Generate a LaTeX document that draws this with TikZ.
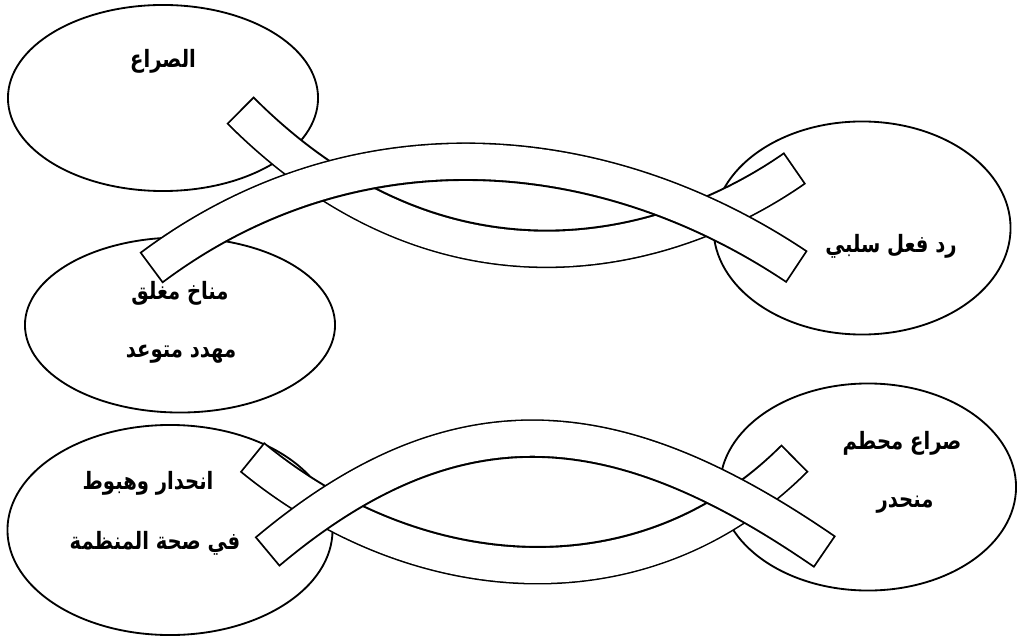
\documentclass[tikz,border=0pt]{standalone}
\usepackage{fontspec}
\usetikzlibrary{shapes.geometric}
\TeXXeTstate=1
\newfontfamily\arabicfont[Script=Arabic, FakeStretch=0.82]{DejaVu Sans}

\tikzset{
  bubble/.style={ellipse, draw, line width=1.3pt, inner sep=0pt},
  ribbon/.style={line width=27.4pt, postaction={draw=white, line width=24.8pt, shorten <=1.3pt, shorten >=1.3pt}},
  lbl/.style={font=\arabicfont\bfseries\fontsize{17}{20}\selectfont, inner sep=1pt}
}

\begin{document}
\begin{tikzpicture}[x=0.025cm,y=-0.025cm,line join=round]
        \useasboundingbox (0,0) rectangle (1017,636);
        % ellipses
        \node[bubble, minimum width=7.75cm, minimum height=4.65cm] (conflict) at (163,98) {};
        \node[bubble, minimum width=7.75cm, minimum height=4.375cm] (climate) at (180,325) {};
        \node[bubble, minimum width=7.425cm, minimum height=5.325cm] (reaction) at (862,228) {};
        \node[bubble, minimum width=8.125cm, minimum height=5.25cm] (decline) at (170,530) {};
        \node[bubble, minimum width=7.4cm, minimum height=5.175cm] (broken) at (868,487) {};
        % ribbon ends
        \coordinate (a1) at (240,110);
        \coordinate (a2) at (795,168);
        \coordinate (b1) at (151,268);
        \coordinate (b2) at (797,267);
        \coordinate (d1) at (252,457);
        \coordinate (d2) at (795,458);
        \coordinate (c1) at (267,552);
        \coordinate (c2) at (825,552);
        % upper pair
        \draw[ribbon] (a1) .. controls (445,315) and (669,256) .. (a2);
        \draw[ribbon] (b1) .. controls (350,119) and (598,134) .. (b2);
        % lower pair
        \draw[ribbon] (d1) .. controls (418,593) and (644,609) .. (d2);
        \draw[ribbon] (c1) .. controls (461,389) and (623,413) .. (c2);
        % labels
        \node[lbl] (t1) at (163,61) {\beginR الصراع\endR};
        \node[lbl] (t2) at (180,293) {\beginR مناخ مغلق\endR};
        \node[lbl] (t3) at (181,354) {\beginR مهدد متوعد\endR};
        \node[lbl] (t4) at (891,246) {\beginR رد فعل سلبي\endR};
        \node[lbl] (t5) at (148,483) {\beginR انحدار وهبوط\endR};
        \node[lbl] (t6) at (155,543) {\beginR في صحة المنظمة\endR};
        \node[lbl] (t7) at (902,443) {\beginR صراع محطم\endR};
        \node[lbl] (t8) at (905,505) {\beginR منحدر\endR};
      \end{tikzpicture}
\end{document}
